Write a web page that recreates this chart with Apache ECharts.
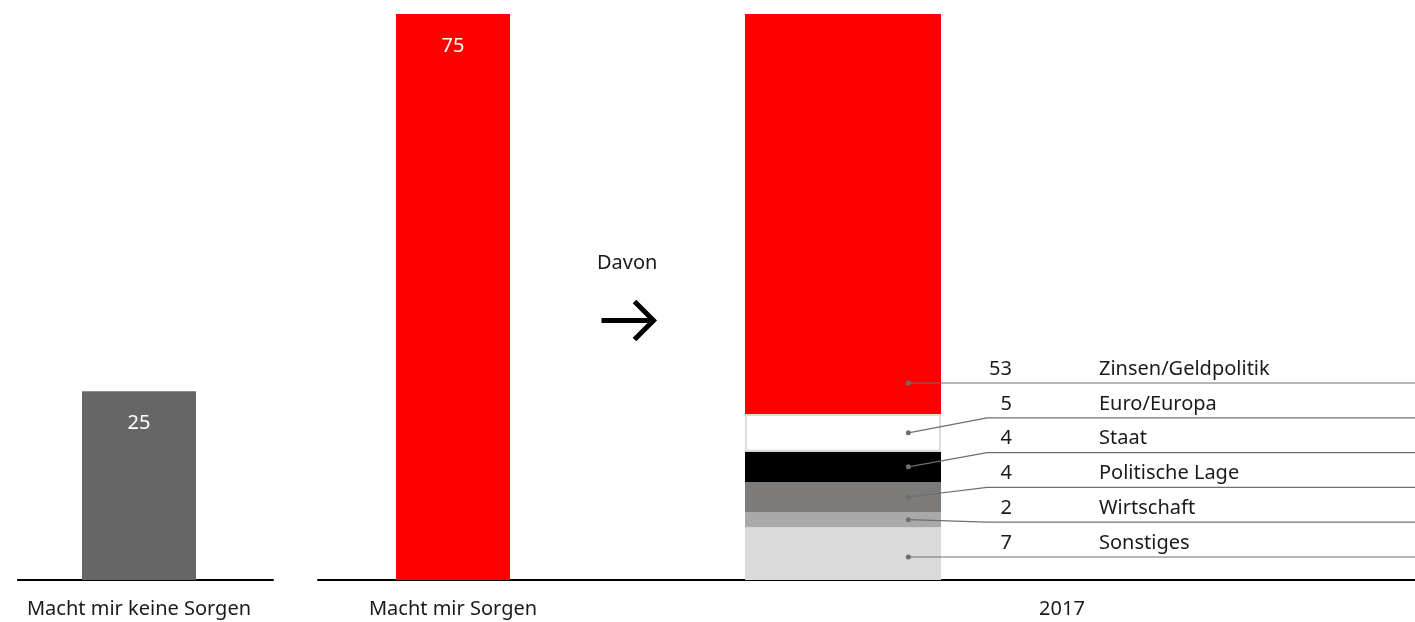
<!DOCTYPE html>
<html>
<head>
<meta charset="utf-8">
<script src="https://cdn.jsdelivr.net/npm/echarts@6/dist/echarts.min.js"></script>
<style>
html,body{margin:0;padding:0;background:#fff;}
#chart{width:1415px;height:622px;}
</style>
</head>
<body>
<div id="chart"></div>
<script>
// ---- data ----
const categories = ['Macht mir keine Sorgen', 'Macht mir Sorgen', '2017'];
const totals = [25, 75];
const topics = ['Sonstiges', 'Wirtschaft', 'Politische Lage', 'Staat', 'Euro/Europa', 'Zinsen/Geldpolitik'];
const topicValues = [7, 2, 4, 4, 5, 53];
const topicColors = ['#d9dad9', '#a8a9a8', '#7c7b79', '#000000', '#ffffff', '#ff0000'];
const noteText = 'Davon';

// ---- style ----
const FONT = '"Noto Sans", "Open Sans", sans-serif';
const TXT = '#1a1a1a';
const FS = 20;
const BAR3_WIDTH = 196;
const axisMax = 75;

const chart = echarts.init(document.getElementById('chart'), null, {renderer: 'canvas'});

function xAx(gridIndex, data, showLabel, showLine) {
  return {
    type: 'category', gridIndex: gridIndex, data: data,
    axisTick: {show: false},
    axisLine: {show: showLine, lineStyle: {color: '#000', width: 2}},
    axisLabel: {show: showLabel, color: TXT, fontSize: FS, fontFamily: FONT, margin: 19}
  };
}
function yAx(gridIndex) {
  return {type: 'value', gridIndex: gridIndex, min: 0, max: axisMax, show: false};
}

// cumulative starts for stacked segments
const starts = [];
let acc = 0;
topicValues.forEach(function (v) { starts.push(acc); acc += v; });

const stackSeries = topics.map(function (name, i) {
  const s = {
    type: 'bar', name: name, stack: 'y2017', xAxisIndex: 2, yAxisIndex: 2,
    barWidth: BAR3_WIDTH, data: [topicValues[i]],
    itemStyle: {color: topicColors[i]},
    emphasis: {disabled: true}
  };
  if (topicColors[i] === '#ffffff') {
    s.itemStyle.borderColor = '#dcdcdc';
    s.itemStyle.borderWidth = 2;
  }
  return s;
});

const leaderData = topics.map(function (name, i) {
  return [0, starts[i], topicValues[i], i];
});

const option = {
  animation: false,
  backgroundColor: '#ffffff',
  grid: [
    {left: 18, width: 242, top: 14, bottom: 42},
    {left: 318, width: 270, top: 14, bottom: 42},
    {left: 588, width: 510, top: 14, bottom: 42},
    {left: 709, right: 0, top: 14, bottom: 42},
    {left: 18, width: 255, top: 14, bottom: 42}
  ],
  xAxis: [
    xAx(0, [categories[0]], true, true),
    xAx(1, [categories[1]], true, true),
    xAx(2, [categories[2]], false, true),
    xAx(3, [categories[2]], true, true),
    xAx(4, [categories[0]], false, true)
  ],
  yAxis: [yAx(0), yAx(1), yAx(2), yAx(3), yAx(4)],
  graphic: [
    {
      type: 'text', left: 597, top: 253,
      style: {text: noteText, fontSize: FS, fontFamily: FONT, fill: TXT}
    },
    {
      type: 'group', left: 599, top: 299,
      children: [
        {type: 'line', shape: {x1: 0, y1: 21, x2: 52, y2: 21}, style: {stroke: '#000', lineWidth: 5}},
        {type: 'polyline', shape: {points: [[33, 2], [52, 21], [33, 40]]}, style: {stroke: '#000', lineWidth: 5, fill: null}}
      ]
    }
  ],
  series: [
    {
      type: 'bar', xAxisIndex: 0, yAxisIndex: 0, barWidth: 114,
      data: [totals[0]],
      itemStyle: {color: '#666666'},
      label: {show: true, position: 'insideTop', distance: 22, color: '#fff', fontSize: FS, fontFamily: FONT},
      emphasis: {disabled: true}
    },
    {
      type: 'bar', xAxisIndex: 1, yAxisIndex: 1, barWidth: 114,
      data: [totals[1]],
      itemStyle: {color: '#ff0000'},
      label: {show: true, position: 'insideTop', distance: 22, color: '#fff', fontSize: FS, fontFamily: FONT},
      emphasis: {disabled: true}
    }
  ].concat(stackSeries).concat([
    {
      type: 'custom', xAxisIndex: 2, yAxisIndex: 2, z: 10, clip: false,
      data: leaderData,
      renderItem: function (params, api) {
        const start = api.value(1), val = api.value(2), idx = api.value(3);
        const p0 = api.coord([0, start]);
        const p1 = api.coord([0, start + val]);
        const base = api.coord([0, 0]);
        const cx = p0[0];
        const segH = p0[1] - p1[1];
        const rowY = base[1] - 23 - idx * 34.8;
        const dotY = segH > 40 ? rowY : (p0[1] + p1[1]) / 2;
        const dotX = cx + BAR3_WIDTH / 3;
        const bendX = cx + 144;
        const rightX = api.getWidth();
        return {
          type: 'group',
          children: [
            {type: 'polyline', shape: {points: [[dotX, dotY], [bendX, rowY], [rightX, rowY]]},
             style: {stroke: '#6e6e6e', lineWidth: 1.2, fill: null}},
            {type: 'circle', shape: {cx: dotX, cy: dotY, r: 2.5}, style: {fill: '#6e6e6e'}},
            {type: 'text', x: cx + 169, y: rowY - 14,
             style: {text: String(val), align: 'right', verticalAlign: 'middle', fontSize: FS, fontFamily: FONT, fill: TXT}},
            {type: 'text', x: cx + 256, y: rowY - 14,
             style: {text: topics[idx], align: 'left', verticalAlign: 'middle', fontSize: FS, fontFamily: FONT, fill: TXT}}
          ]
        };
      }
    }
  ])
};
chart.setOption(option);
</script>
</body>
</html>
